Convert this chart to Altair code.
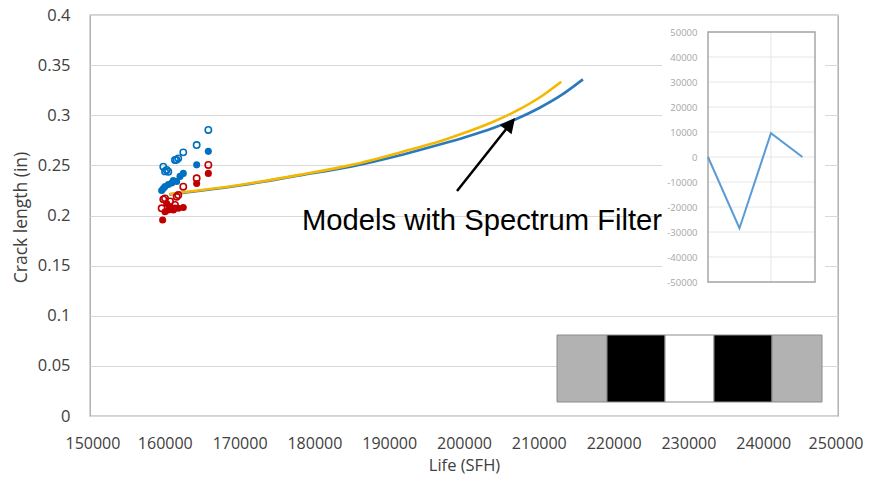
import altair as alt
import pandas as pd

# ---------------- main chart data ----------------
blue_open_x = [159800, 160030, 160250, 160470, 161360, 161570, 161800, 162470, 164260, 165820]
blue_open_y = [0.2487, 0.2440, 0.2454, 0.2437, 0.2554, 0.2555, 0.2570, 0.2630, 0.2703, 0.2853]

blue_fill_x = [159580, 159800, 160030, 160470, 160920, 161140, 161590, 162030, 162470, 164260, 165820]
blue_fill_y = [0.2250, 0.2270, 0.2290, 0.2310, 0.2325, 0.2350, 0.2340, 0.2390, 0.2420, 0.2505, 0.2640]

red_open_x = [159580, 159800, 160030, 160700, 161360, 161590, 161800, 162470, 164260, 165820]
red_open_y = [0.2072, 0.2161, 0.2171, 0.2140, 0.2105, 0.2187, 0.2204, 0.2287, 0.2371, 0.2504]

red_fill_x = [159710, 160030, 160250, 160470, 160700, 161140, 161360, 161800, 162470, 164260, 165820]
red_fill_y = [0.1955, 0.2038, 0.2120, 0.2055, 0.2088, 0.2055, 0.2075, 0.2072, 0.2080, 0.2320, 0.2420]

line_blue_x = [160600, 165000, 170000, 178000, 185000, 192000, 197000, 200350, 204000, 207000, 210000, 213000, 215900]
line_blue_y = [0.2210, 0.2250, 0.2300, 0.2400, 0.2490, 0.2612, 0.2712, 0.2786, 0.2876, 0.2963, 0.3070, 0.3200, 0.3358]
line_gold_x = [160600, 165000, 170000, 178000, 185000, 192000, 197000, 200350, 204000, 207000, 210000, 213000]
line_gold_y = [0.2215, 0.2255, 0.2305, 0.2405, 0.2505, 0.2640, 0.2745, 0.2832, 0.2938, 0.3043, 0.3172, 0.3335]

y_ticks = [0, 0.05, 0.1, 0.15, 0.2, 0.25, 0.3, 0.35, 0.4]
x_ticks = [150000, 160000, 170000, 180000, 190000, 200000, 210000, 220000, 230000, 240000, 250000]

annot_text = ["Models with Spectrum Filter"]
annot_x = [178340]
annot_y = [0.1855]
arrow_from = [199064, 0.2244]
arrow_head = [205989, 0.2895]

# ---------------- inset (spectrum) data ----------------
inset_x = [0, 1, 2, 3]
inset_y = [0, -28500, 9500, 0]
inset_ticks = [-50000, -40000, -30000, -20000, -10000, 0, 10000, 20000, 30000, 40000, 50000]
inset_vgrid = [2]

# ---------------- filter block pattern ----------------
box_kind = ["edge", "pulse", "gap", "pulse", "edge"]
box_start = [0, 50, 108, 157, 215]
box_end = [50, 108, 157, 215, 265]

FONT = "Open Sans"

def pts(xs, ys):
    return pd.DataFrame({"x": xs, "y": ys})

xs = alt.Scale(domain=[150000, 250000], nice=False)
ys = alt.Scale(domain=[0, 0.4], nice=False)

xenc = alt.X("x:Q", scale=xs, axis=alt.Axis(
    values=x_ticks, format="d", title="Life (SFH)", grid=False, domain=False,
    ticks=False, tickSize=0, labelPadding=19, labelFontSize=16, labelColor="#404040",
    labelOverlap=False, labelFlush=True, labelFlushOffset=25,
    titleFontSize=16.5, titleColor="#404040", titleFontWeight="normal",
    titleX=374, titleY=54, titleBaseline="alphabetic", titleAlign="center",
    labelFont=FONT, titleFont=FONT))
yenc = alt.Y("y:Q", scale=ys, axis=alt.Axis(
    values=y_ticks, format=".2~f", title="Crack length (in)", grid=True,
    gridColor="#d9d9d9", gridWidth=1, domain=False, ticks=False, tickSize=0,
    labelPadding=20, labelFontSize=16.5, labelColor="#404040", labelBaseline="middle",
    labelOverlap=False, labelFlush=False,
    titleFontSize=17.5, titleColor="#404040", titleFontWeight="normal",
    titleX=-69, titleY=202, titleAngle=270, titleAlign="center", titleBaseline="middle",
    labelFont=FONT, titleFont=FONT))

line_b = alt.Chart(pts(line_blue_x, line_blue_y)).mark_line(
    color="#2a79bf", strokeWidth=2.6, interpolate="monotone").encode(x=xenc, y=yenc)
line_g = alt.Chart(pts(line_gold_x, line_gold_y)).mark_line(
    color="#f5b800", strokeWidth=2.6, interpolate="monotone").encode(x="x:Q", y="y:Q")

bo = alt.Chart(pts(blue_open_x, blue_open_y)).mark_point(
    shape="circle", filled=False, color="#0070c0", size=40, strokeWidth=1.6, opacity=1
).encode(x="x:Q", y="y:Q")
bf = alt.Chart(pts(blue_fill_x, blue_fill_y)).mark_point(
    shape="circle", filled=True, color="#0070c0", size=50, opacity=1
).encode(x="x:Q", y="y:Q")
ro = alt.Chart(pts(red_open_x, red_open_y)).mark_point(
    shape="circle", filled=False, color="#c00000", size=40, strokeWidth=1.6, opacity=1
).encode(x="x:Q", y="y:Q")
rf = alt.Chart(pts(red_fill_x, red_fill_y)).mark_point(
    shape="circle", filled=True, color="#c00000", size=50, opacity=1
).encode(x="x:Q", y="y:Q")

txt = alt.Chart(pd.DataFrame({"x": annot_x, "y": annot_y, "t": annot_text})).mark_text(
    font="Liberation Sans", fontSize=29.2, color="#000000", align="left", baseline="alphabetic"
).encode(x="x:Q", y="y:Q", text="t:N")

arrow_df = pd.DataFrame({"x": [arrow_from[0]], "y": [arrow_from[1]],
                         "x2": [arrow_head[0]], "y2": [arrow_head[1]]})
arrow_line = alt.Chart(arrow_df).mark_rule(color="#000000", strokeWidth=2.5).encode(
    x="x:Q", y="y:Q", x2="x2:Q", y2="y2:Q")
arrow_tip = alt.Chart(pd.DataFrame({"x": [arrow_head[0]], "y": [arrow_head[1]]})).mark_point(
    shape="M0,-1L0.75,0.5L-0.75,0.5Z", filled=True, color="#000000", size=400,
    angle=38.5, opacity=1).encode(x="x:Q", y="y:Q")

main = alt.layer(line_b, line_g, bo, bf, ro, rf, txt, arrow_line, arrow_tip)

# ---------------- inset layer ----------------
one = pd.DataFrame({"a": [0]})
ixs = alt.Scale(domain=[0, 3.4], range=[618, 725], nice=False, zero=False)
iys = alt.Scale(domain=[-50000, 50000], range=[267, 17], nice=False, zero=False)

inset_bg = alt.Chart(one).mark_rect(color="#ffffff").encode(
    x=alt.value(572), x2=alt.value(735), y=alt.value(7), y2=alt.value(277))
inset_hgrid = alt.Chart(pd.DataFrame({"iy": inset_ticks})).mark_rule(
    color="#e6e6e6", strokeWidth=1).encode(
    y=alt.Y("iy:Q", scale=iys, axis=alt.Axis(
        orient="left", offset=-618, values=inset_ticks, labelExpr="'' + datum.value",
        grid=False, domain=False, ticks=False, tickSize=0, labelPadding=11,
        labelOverlap=False, labelFlush=False,
        labelFontSize=9.5, labelColor="#a6a6a6", labelFont=FONT, title=None, zindex=1)),
    x=alt.value(618), x2=alt.value(725))
inset_vg = alt.Chart(pd.DataFrame({"ix": inset_vgrid})).mark_rule(
    color="#e6e6e6", strokeWidth=1).encode(
    x=alt.X("ix:Q", scale=ixs, axis=None), y=alt.value(17), y2=alt.value(267))
inset_frame = alt.Chart(one).mark_rect(fill=None, stroke="#a6a6a6", strokeWidth=1.5).encode(
    x=alt.value(618), x2=alt.value(725), y=alt.value(17), y2=alt.value(267))
inset_line = alt.Chart(pd.DataFrame({"ix": inset_x, "iy": inset_y})).mark_line(
    color="#5b9bd5", strokeWidth=2).encode(x="ix:Q", y="iy:Q")

inset = alt.layer(inset_bg, inset_hgrid, inset_vg, inset_frame, inset_line)

# ---------------- block pattern layer ----------------
box_df = pd.DataFrame({"b0": box_start, "b1": box_end, "kind": box_kind})
box = alt.Chart(box_df).mark_rect(stroke="#8c8c8c", strokeWidth=1).encode(
    x=alt.X("b0:Q", scale=alt.Scale(domain=[0, 265], range=[467, 732], nice=False, zero=False), axis=None),
    x2="b1:Q",
    y=alt.value(320), y2=alt.value(387),
    color=alt.Color("kind:N", scale=alt.Scale(domain=["edge", "pulse", "gap"],
                                              range=["#b2b2b2", "#000000", "#ffffff"]), legend=None))

chart = alt.layer(main, inset, box).resolve_scale(
    x="independent", y="independent", color="independent"
).properties(
    width=748, height=401,
    autosize=alt.AutoSizeParams(type="none"),
    padding={"left": 82, "top": 7, "right": 25, "bottom": 58},
).configure_view(stroke="#a6a6a6", strokeWidth=1.3)

chart.save("out.html", embed_options={"renderer": "svg", "actions": False})
